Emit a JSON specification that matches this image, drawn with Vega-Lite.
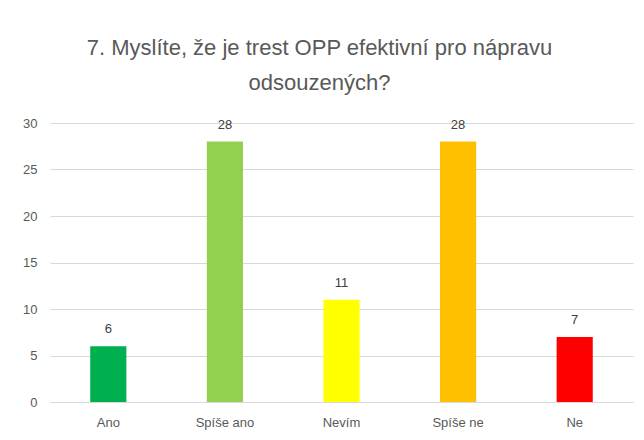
{
  "$schema": "https://vega.github.io/schema/vega-lite/v6.json",
  "width": 583,
  "height": 279,
  "autosize": {"type": "none"},
  "padding": {"left": 50, "top": 123, "right": 11, "bottom": 38},
  "background": "white",
  "title": {
    "text": ["7. Myslíte, že je trest OPP efektivní pro nápravu", "odsouzených?"],
    "font": "Liberation Sans",
    "fontSize": 22,
    "fontWeight": "normal",
    "color": "#595959",
    "lineHeight": 35,
    "anchor": "middle",
    "dx": -22,
    "offset": 22
  },
  "data": {
    "values": [
      {"odpoved": "Ano", "pocet": 6},
      {"odpoved": "Spíše ano", "pocet": 28},
      {"odpoved": "Nevím", "pocet": 11},
      {"odpoved": "Spíše ne", "pocet": 28},
      {"odpoved": "Ne", "pocet": 7}
    ]
  },
  "encoding": {
    "x": {
      "field": "odpoved",
      "type": "nominal",
      "sort": null,
      "scale": {"paddingInner": 0, "paddingOuter": 0},
      "axis": {
        "title": null,
        "labelAngle": 0,
        "labelFont": "Liberation Sans",
        "labelFontSize": 13,
        "labelColor": "#595959",
        "labelPadding": 14,
        "ticks": false,
        "domainColor": "#D9D9D9",
        "grid": false
      }
    },
    "y": {
      "field": "pocet",
      "type": "quantitative",
      "scale": {"domain": [0, 30]},
      "axis": {
        "title": null,
        "values": [0, 5, 10, 15, 20, 25, 30],
        "labelFont": "Liberation Sans",
        "labelFontSize": 13,
        "labelColor": "#595959",
        "labelPadding": 13,
        "ticks": false,
        "domain": false,
        "gridColor": "#D9D9D9"
      }
    }
  },
  "layer": [
    {
      "mark": {"type": "bar", "width": {"band": 0.31}},
      "encoding": {
        "color": {
          "field": "odpoved",
          "type": "nominal",
          "scale": {
            "domain": ["Ano", "Spíše ano", "Nevím", "Spíše ne", "Ne"],
            "range": ["#00B050", "#92D050", "#FFFF00", "#FFC000", "#FF0000"]
          },
          "legend": null
        }
      }
    },
    {
      "mark": {"type": "text", "baseline": "bottom", "dy": -10, "font": "Liberation Sans", "fontSize": 13, "color": "#404040"},
      "encoding": {"text": {"field": "pocet", "type": "quantitative"}}
    }
  ],
  "config": {"view": {"stroke": null}}
}
